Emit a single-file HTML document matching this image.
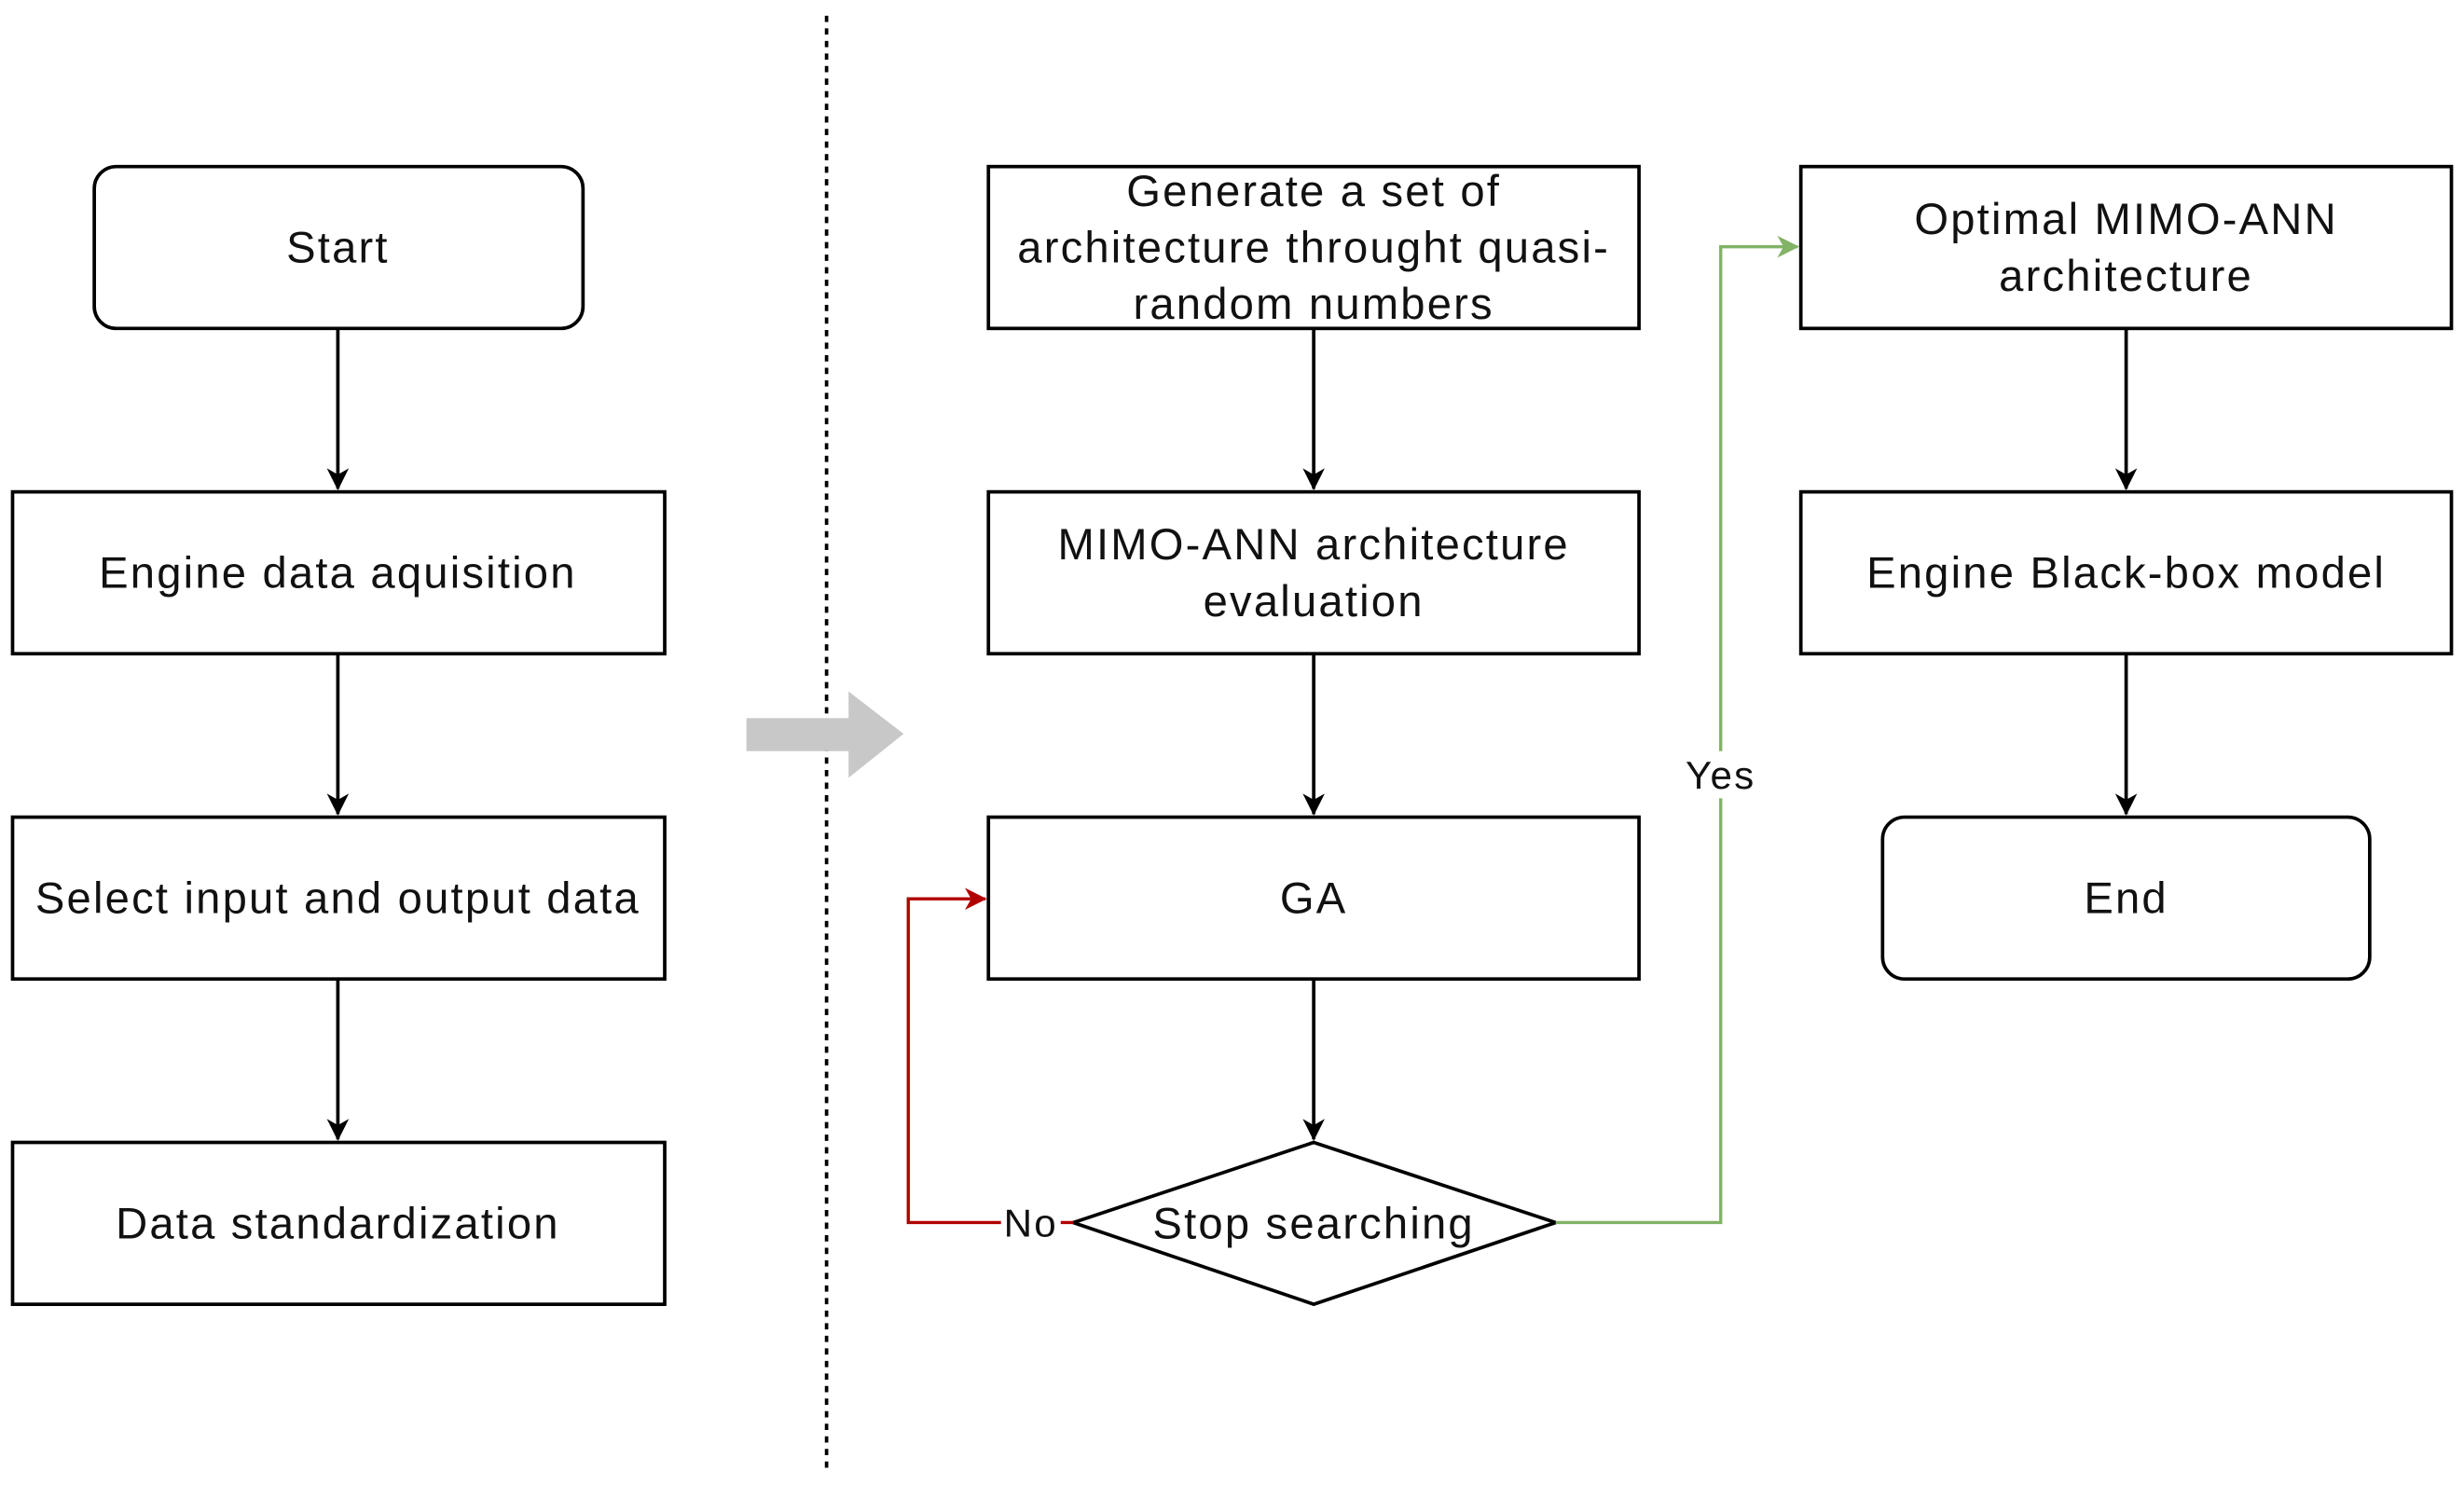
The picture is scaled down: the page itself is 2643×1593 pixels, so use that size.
<!DOCTYPE html>
<html><head><meta charset="utf-8"><style>html,body{margin:0;padding:0;background:#fff;}svg{display:block}</style></head>
<body>
<svg width="2643" height="1593" viewBox="0 0 1568 945" preserveAspectRatio="none" xmlns="http://www.w3.org/2000/svg">
<defs>
<marker id="ab" markerWidth="14" markerHeight="14" refX="13" refY="7" orient="auto" markerUnits="userSpaceOnUse"><path d="M0,0 L14,7 L0,14 L4,7 Z" fill="#000"/></marker>
<marker id="ar" markerWidth="14" markerHeight="14" refX="13" refY="7" orient="auto" markerUnits="userSpaceOnUse"><path d="M0,0 L14,7 L0,14 L4,7 Z" fill="#b20000"/></marker>
<marker id="ag" markerWidth="14" markerHeight="14" refX="13" refY="7" orient="auto" markerUnits="userSpaceOnUse"><path d="M0,0 L14,7 L0,14 L4,7 Z" fill="#82b366"/></marker>
</defs>
<g fill="none" stroke="#000" stroke-width="2.2">
<rect x="60" y="106" width="311" height="103" rx="14"/>
<rect x="8" y="313" width="415" height="103"/>
<rect x="8" y="520" width="415" height="103"/>
<rect x="8" y="727" width="415" height="103"/>
<rect x="629" y="106" width="414" height="103"/>
<rect x="629" y="313" width="414" height="103"/>
<rect x="629" y="520" width="414" height="103"/>
<polygon points="836,727 990,778 836,830 683,778"/>
<rect x="1146" y="106" width="414" height="103"/>
<rect x="1146" y="313" width="414" height="103"/>
<rect x="1198" y="520" width="310" height="103" rx="14"/>
<line x1="215" y1="209" x2="215" y2="311" marker-end="url(#ab)"/>
<line x1="215" y1="416" x2="215" y2="518" marker-end="url(#ab)"/>
<line x1="215" y1="623" x2="215" y2="725" marker-end="url(#ab)"/>
<line x1="836" y1="209" x2="836" y2="311" marker-end="url(#ab)"/>
<line x1="836" y1="416" x2="836" y2="518" marker-end="url(#ab)"/>
<line x1="836" y1="623" x2="836" y2="725" marker-end="url(#ab)"/>
<line x1="1353" y1="209" x2="1353" y2="311" marker-end="url(#ab)"/>
<line x1="1353" y1="416" x2="1353" y2="518" marker-end="url(#ab)"/>
<line x1="526" y1="10" x2="526" y2="935" stroke-dasharray="4,4"/>
</g>
<polyline points="683,778 578,778 578,572 627,572" fill="none" stroke="#b20000" stroke-width="2" marker-end="url(#ar)"/>
<polyline points="990,778 1095,778 1095,157 1144,157" fill="none" stroke="#82b366" stroke-width="2" marker-end="url(#ag)"/>
<polygon points="475,457 540,457 540,440 575,467 540,495 540,478 475,478" fill="#c8c8c8"/>
<g font-family="Liberation Sans, sans-serif" font-size="28" letter-spacing="1.3" fill="#111" text-anchor="middle">
<text x="215" y="167">Start</text>
<text x="215" y="374">Engine data aquisition</text>
<text x="215" y="581">Select input and output data</text>
<text x="215" y="788">Data standardization</text>
<text x="836" y="131">Generate a set of</text>
<text x="836" y="167">architecture throught quasi-</text>
<text x="836" y="203">random numbers</text>
<text x="836" y="356">MIMO-ANN architecture</text>
<text x="836" y="392">evaluation</text>
<text x="836" y="581">GA</text>
<text x="836" y="788">Stop searching</text>
<text x="1353" y="149">Optimal MIMO-ANN</text>
<text x="1353" y="185">architecture</text>
<text x="1353" y="374">Engine Black-box model</text>
<text x="1353" y="581">End</text>
<rect x="637" y="762" width="38" height="30" fill="#fff"/>
<text x="656" y="787" font-size="25">No</text>
<rect x="1070" y="478" width="50" height="30" fill="#fff"/>
<text x="1095" y="502" font-size="25">Yes</text>
</g>
</svg>
</body></html>
